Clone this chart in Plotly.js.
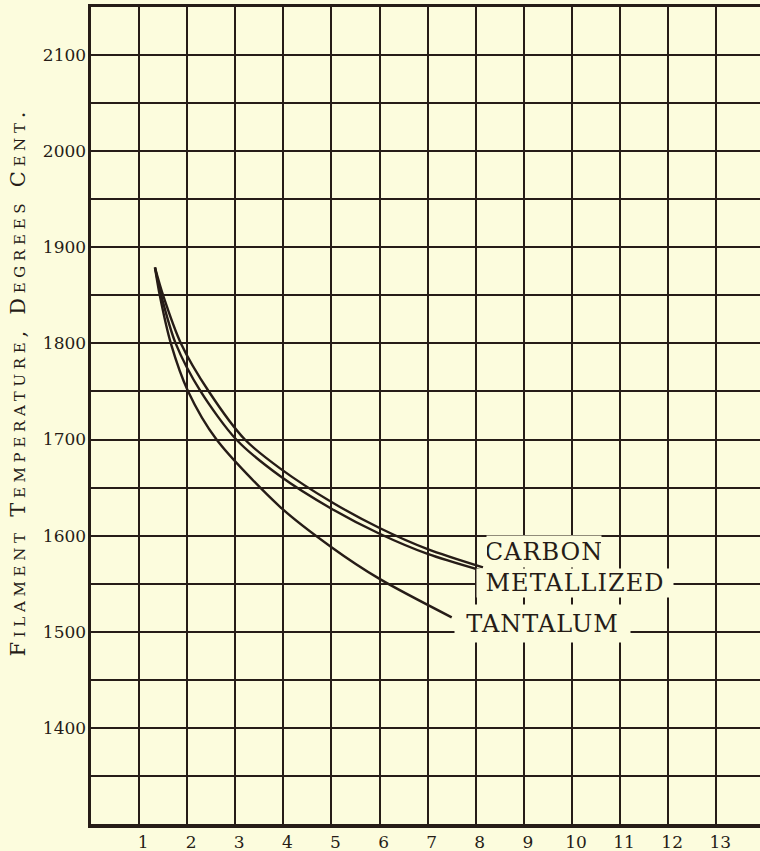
<!DOCTYPE html>
<html><head><meta charset="utf-8">
<script src="https://cdn.plot.ly/plotly-3.0.1.min.js"></script>
<style>html,body{margin:0;padding:0;background:#fcfcdd;}</style>
</head><body><div id="chart" style="width:760px;height:851px;"></div>
<script>
// ---- data ----
const xTickVals = [1,2,3,4,5,6,7,8,9,10,11,12,13];
const yTickVals = [1400,1500,1600,1700,1800,1900,2000,2100];
const yTickText = ['1400','1500','1600','1700','1800','1900','2000','2100'];

const carbonX = [1.33, 1.50, 1.87, 2.45, 3.20, 3.93, 5.0, 6.0, 7.0, 8.15];
const carbonY = [1879, 1850, 1800, 1750, 1700, 1670, 1635, 1608, 1586, 1567];

const metallizedX = [1.33, 1.46, 1.76, 2.28, 3.02, 3.93, 5.0, 6.0, 7.0, 8.10];
const metallizedY = [1879, 1850, 1800, 1750, 1700, 1662, 1628, 1602, 1581, 1564];

const tantalumX = [1.33, 1.43, 1.66, 2.02, 2.61, 3.93, 5.0, 6.0, 7.5];
const tantalumY = [1879, 1850, 1800, 1750, 1700, 1630, 1588, 1555, 1515];

const seriesNames = ['CARBON', 'METALLIZED', 'TANTALUM'];
const yTitle = 'Filament Temperature, Degrees Cent.';

// ---- style ----
const ink = '#261c17';
const paper = '#fcfcdd';
const serif = 'DejaVu Serif, Liberation Serif, serif';

function curve(x, y, name) {
  return {x: x, y: y, name: name, type: 'scatter', mode: 'lines',
    line: {color: ink, width: 2.4, shape: 'spline', smoothing: 0.8},
    hoverinfo: 'skip', showlegend: false};
}

const data = [
  curve(carbonX, carbonY, seriesNames[0]),
  curve(metallizedX, metallizedY, seriesNames[1]),
  curve(tantalumX, tantalumY, seriesNames[2])
];

function label(text, x, y, w, h) {
  return {text: '<span style="letter-spacing:1px">' + text + '</span>', x: x, y: y, xref: 'x', yref: 'y', showarrow: false,
    width: w, height: h, bgcolor: paper, borderpad: 0,
    font: {family: serif, size: 24, color: ink}, xanchor: 'center', yanchor: 'middle'};
}

const layout = {
  width: 760, height: 851,
  paper_bgcolor: paper, plot_bgcolor: paper,
  margin: {l: 91, r: 0, t: 7, b: 27},
  showlegend: false,
  xaxis: {
    range: [0, 13.91], tickvals: xTickVals, ticks: '',
    showgrid: true, gridcolor: ink, gridwidth: 2,
    showline: true, linecolor: ink, linewidth: 3.5, mirror: true,
    zeroline: false, ticklabelshift: 4, ticklabelstandoff: 0,
    tickfont: {family: serif, size: 17, color: ink}
  },
  yaxis: {
    range: [1300, 2150], tickvals: yTickVals, ticktext: yTickText, ticks: '',
    showgrid: true, gridcolor: ink, gridwidth: 2,
    minor: {dtick: 50, tick0: 1300, showgrid: true, gridcolor: ink, gridwidth: 2, ticks: ''},
    showline: true, linecolor: ink, linewidth: 3.5, mirror: false,
    zeroline: false, ticklabelstandoff: -2,
    tickfont: {family: serif, size: 17, color: ink}
  },
  annotations: [
    label(seriesNames[0], 9.42, 1584, 114, 31),
    label(seriesNames[1], 10.06, 1550.7, 196, 28),
    label(seriesNames[2], 9.39, 1508.5, 175, 37),
    {text: '<span style="letter-spacing:4.7px">' + yTitle + '</span>', textangle: -90,
      xref: 'paper', yref: 'paper', x: -0.1091, y: 0.5416, xanchor: 'center', yanchor: 'middle',
      showarrow: false, font: {family: serif, size: 21, color: ink, variant: 'small-caps'}}
  ]
};

Plotly.newPlot('chart', data, layout, {staticPlot: true, displayModeBar: false});
</script>
</body></html>
